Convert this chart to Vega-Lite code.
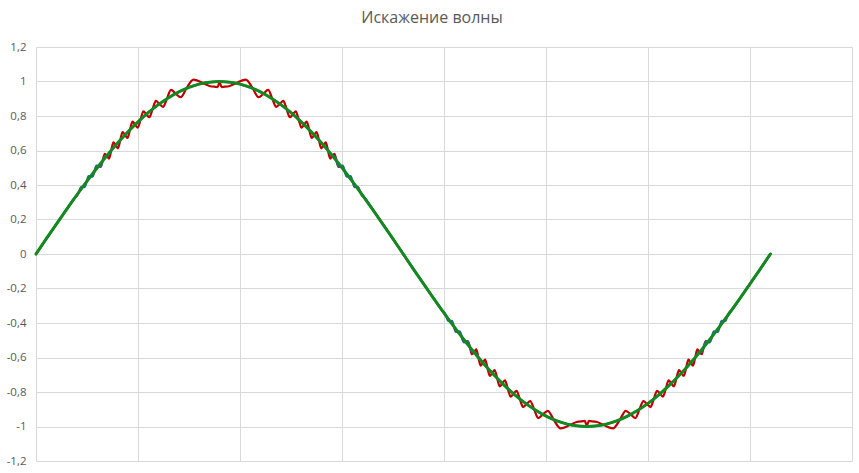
{
  "$schema": "https://vega.github.io/schema/vega-lite/v6.json",
  "autosize": "none",
  "width": 816,
  "height": 414,
  "padding": {"left": 36, "top": 47, "right": 7, "bottom": 12},
  "background": "white",
  "title": {"text": "Искажение волны", "font": "Open Sans", "fontSize": 16, "fontWeight": "normal", "color": "#595959", "anchor": "middle", "offset": 15, "dx": -12},
  "config": {"view": {"stroke": null}},
  "datasets": {
    "green": [
      {"x":0,"y":0},{"x":5,"y":0.0872},{"x":10,"y":0.1736},{"x":15,"y":0.2588},{"x":20,"y":0.342},{"x":25,"y":0.4226},{"x":30,"y":0.5},{"x":35,"y":0.5736},{"x":40,"y":0.6428},{"x":45,"y":0.7071},{"x":50,"y":0.766},{"x":55,"y":0.8192},{"x":60,"y":0.866},{"x":65,"y":0.9063},{"x":70,"y":0.9397},{"x":75,"y":0.9659},{"x":80,"y":0.9848},{"x":85,"y":0.9962},{"x":90,"y":1},{"x":95,"y":0.9962},{"x":100,"y":0.9848},{"x":105,"y":0.9659},{"x":110,"y":0.9397},{"x":115,"y":0.9063},{"x":120,"y":0.866},{"x":125,"y":0.8192},{"x":130,"y":0.766},{"x":135,"y":0.7071},{"x":140,"y":0.6428},{"x":145,"y":0.5736},{"x":150,"y":0.5},{"x":155,"y":0.4226},{"x":160,"y":0.342},{"x":165,"y":0.2588},{"x":170,"y":0.1736},{"x":175,"y":0.0872},{"x":180,"y":0},
      {"x":185,"y":-0.0872},{"x":190,"y":-0.1736},{"x":195,"y":-0.2588},{"x":200,"y":-0.342},{"x":205,"y":-0.4226},{"x":210,"y":-0.5},{"x":215,"y":-0.5736},{"x":220,"y":-0.6428},{"x":225,"y":-0.7071},{"x":230,"y":-0.766},{"x":235,"y":-0.8192},{"x":240,"y":-0.866},{"x":245,"y":-0.9063},{"x":250,"y":-0.9397},{"x":255,"y":-0.9659},{"x":260,"y":-0.9848},{"x":265,"y":-0.9962},{"x":270,"y":-1},{"x":275,"y":-0.9962},{"x":280,"y":-0.9848},{"x":285,"y":-0.9659},{"x":290,"y":-0.9397},{"x":295,"y":-0.9063},{"x":300,"y":-0.866},{"x":305,"y":-0.8192},{"x":310,"y":-0.766},{"x":315,"y":-0.7071},{"x":320,"y":-0.6428},{"x":325,"y":-0.5736},{"x":330,"y":-0.5},{"x":335,"y":-0.4226},{"x":340,"y":-0.342},{"x":345,"y":-0.2588},{"x":350,"y":-0.1736},{"x":355,"y":-0.0872},{"x":360,"y":0}
    ],
    "red": [
      {"x":0,"y":0},{"x":5,"y":0.0872},{"x":10,"y":0.1736},{"x":15,"y":0.2588},{"x":20,"y":0.342},{"x":25,"y":0.4226},
      {"x":26.744,"y":0.45},{"x":27.71,"y":0.461},{"x":28.685,"y":0.48},{"x":29.669,"y":0.507},{"x":30.663,"y":0.51},{"x":31.667,"y":0.505},{"x":32.683,"y":0.54},{"x":33.71,"y":0.581},{"x":34.749,"y":0.57},{"x":35.802,"y":0.553},{"x":36.869,"y":0.6},{"x":37.951,"y":0.647},{"x":39.049,"y":0.63},{"x":40.164,"y":0.613},{"x":41.298,"y":0.66},{"x":42.452,"y":0.707},{"x":43.628,"y":0.69},{"x":44.827,"y":0.673},{"x":46.052,"y":0.72},{"x":47.305,"y":0.767},{"x":48.588,"y":0.75},{"x":49.904,"y":0.733},{"x":51.257,"y":0.78},{"x":52.651,"y":0.827},{"x":54.091,"y":0.81},{"x":55.583,"y":0.793},{"x":57.14,"y":0.84},{"x":58.759,"y":0.887},{"x":60.455,"y":0.87},{"x":62.25,"y":0.853},{"x":64.158,"y":0.9},{"x":66.204,"y":0.951},{"x":68.436,"y":0.93},{"x":70.908,"y":0.909},{"x":73.74,"y":0.96},{"x":77.161,"y":1.011},{"x":81.89,"y":0.99},{"x":85,"y":0.974},{"x":88,"y":0.969},{"x":89,"y":0.968},{"x":90,"y":0.995},
      {"x":91,"y":0.968},{"x":92,"y":0.969},{"x":95,"y":0.974},{"x":98.11,"y":0.99},{"x":102.839,"y":1.011},{"x":106.26,"y":0.96},{"x":109.092,"y":0.909},{"x":111.564,"y":0.93},{"x":113.796,"y":0.951},{"x":115.842,"y":0.9},{"x":117.75,"y":0.853},{"x":119.545,"y":0.87},{"x":121.241,"y":0.887},{"x":122.86,"y":0.84},{"x":124.417,"y":0.793},{"x":125.909,"y":0.81},{"x":127.349,"y":0.827},{"x":128.743,"y":0.78},{"x":130.096,"y":0.733},{"x":131.412,"y":0.75},{"x":132.695,"y":0.767},{"x":133.948,"y":0.72},{"x":135.173,"y":0.673},{"x":136.372,"y":0.69},{"x":137.548,"y":0.707},{"x":138.702,"y":0.66},{"x":139.836,"y":0.613},{"x":140.951,"y":0.63},{"x":142.049,"y":0.647},{"x":143.131,"y":0.6},{"x":144.198,"y":0.553},{"x":145.251,"y":0.57},{"x":146.29,"y":0.581},{"x":147.317,"y":0.54},{"x":148.333,"y":0.505},{"x":149.337,"y":0.51},{"x":150.331,"y":0.507},{"x":151.315,"y":0.48},{"x":152.29,"y":0.461},{"x":153.256,"y":0.45},
      {"x":155,"y":0.4226},{"x":160,"y":0.342},{"x":165,"y":0.2588},{"x":170,"y":0.1736},{"x":175,"y":0.0872},{"x":180,"y":0},{"x":185,"y":-0.0872},{"x":190,"y":-0.1736},{"x":195,"y":-0.2588},{"x":200,"y":-0.342},{"x":205,"y":-0.4226},
      {"x":206.744,"y":-0.45},{"x":207.71,"y":-0.461},{"x":208.685,"y":-0.48},{"x":209.669,"y":-0.507},{"x":210.663,"y":-0.51},{"x":211.667,"y":-0.505},{"x":212.683,"y":-0.54},{"x":213.71,"y":-0.581},{"x":214.749,"y":-0.57},{"x":215.802,"y":-0.553},{"x":216.869,"y":-0.6},{"x":217.951,"y":-0.647},{"x":219.049,"y":-0.63},{"x":220.164,"y":-0.613},{"x":221.298,"y":-0.66},{"x":222.452,"y":-0.707},{"x":223.628,"y":-0.69},{"x":224.827,"y":-0.673},{"x":226.052,"y":-0.72},{"x":227.305,"y":-0.767},{"x":228.588,"y":-0.75},{"x":229.904,"y":-0.733},{"x":231.257,"y":-0.78},{"x":232.651,"y":-0.827},{"x":234.091,"y":-0.81},{"x":235.583,"y":-0.793},{"x":237.14,"y":-0.84},{"x":238.759,"y":-0.887},{"x":240.455,"y":-0.87},{"x":242.25,"y":-0.853},{"x":244.158,"y":-0.9},{"x":246.204,"y":-0.951},{"x":248.436,"y":-0.93},{"x":250.908,"y":-0.909},{"x":253.74,"y":-0.96},{"x":257.161,"y":-1.011},{"x":261.89,"y":-0.99},{"x":265,"y":-0.974},{"x":268,"y":-0.969},{"x":269,"y":-0.968},{"x":270,"y":-0.995},
      {"x":271,"y":-0.968},{"x":272,"y":-0.969},{"x":275,"y":-0.974},{"x":278.11,"y":-0.99},{"x":282.839,"y":-1.011},{"x":286.26,"y":-0.96},{"x":289.092,"y":-0.909},{"x":291.564,"y":-0.93},{"x":293.796,"y":-0.951},{"x":295.842,"y":-0.9},{"x":297.75,"y":-0.853},{"x":299.545,"y":-0.87},{"x":301.241,"y":-0.887},{"x":302.86,"y":-0.84},{"x":304.417,"y":-0.793},{"x":305.909,"y":-0.81},{"x":307.349,"y":-0.827},{"x":308.743,"y":-0.78},{"x":310.096,"y":-0.733},{"x":311.412,"y":-0.75},{"x":312.695,"y":-0.767},{"x":313.948,"y":-0.72},{"x":315.173,"y":-0.673},{"x":316.372,"y":-0.69},{"x":317.548,"y":-0.707},{"x":318.702,"y":-0.66},{"x":319.836,"y":-0.613},{"x":320.951,"y":-0.63},{"x":322.049,"y":-0.647},{"x":323.131,"y":-0.6},{"x":324.198,"y":-0.553},{"x":325.251,"y":-0.57},{"x":326.29,"y":-0.581},{"x":327.317,"y":-0.54},{"x":328.333,"y":-0.505},{"x":329.337,"y":-0.51},{"x":330.331,"y":-0.507},{"x":331.315,"y":-0.48},{"x":332.29,"y":-0.461},{"x":333.256,"y":-0.45},
      {"x":335,"y":-0.4226},{"x":340,"y":-0.342},{"x":345,"y":-0.2588},{"x":350,"y":-0.1736},{"x":355,"y":-0.0872},{"x":360,"y":0}
    ],
    "blue": [
      {"x":0,"y":0},{"x":5,"y":0.0872},{"x":10,"y":0.1736},{"x":15,"y":0.2588},
      {"x":19.268,"y":0.33},{"x":20.182,"y":0.339},{"x":21.1,"y":0.36},{"x":22.024,"y":0.387},{"x":22.955,"y":0.39},{"x":23.891,"y":0.388},{"x":24.834,"y":0.42},{"x":25.785,"y":0.452},{"x":26.744,"y":0.45},{"x":27.71,"y":0.448},{"x":28.685,"y":0.48},{"x":29.669,"y":0.512},{"x":30.663,"y":0.51},{"x":31.667,"y":0.508},{"x":32.683,"y":0.54},{"x":33.71,"y":0.567},{"x":34.749,"y":0.57},{"x":35.802,"y":0.579},{"x":36.869,"y":0.6},
      {"x":40,"y":0.6428},{"x":45,"y":0.7071},{"x":50,"y":0.766},{"x":55,"y":0.8192},{"x":60,"y":0.866},{"x":65,"y":0.9063},{"x":70,"y":0.9397},{"x":75,"y":0.9659},{"x":80,"y":0.9848},{"x":85,"y":0.9962},{"x":90,"y":1},{"x":95,"y":0.9962},{"x":100,"y":0.9848},{"x":105,"y":0.9659},{"x":110,"y":0.9397},{"x":115,"y":0.9063},{"x":120,"y":0.866},{"x":125,"y":0.8192},{"x":130,"y":0.766},{"x":135,"y":0.7071},{"x":140,"y":0.6428},
      {"x":143.131,"y":0.6},{"x":144.198,"y":0.579},{"x":145.251,"y":0.57},{"x":146.29,"y":0.567},{"x":147.317,"y":0.54},{"x":148.333,"y":0.508},{"x":149.337,"y":0.51},{"x":150.331,"y":0.512},{"x":151.315,"y":0.48},{"x":152.29,"y":0.448},{"x":153.256,"y":0.45},{"x":154.215,"y":0.452},{"x":155.166,"y":0.42},{"x":156.109,"y":0.388},{"x":157.045,"y":0.39},{"x":157.976,"y":0.387},{"x":158.9,"y":0.36},{"x":159.818,"y":0.339},{"x":160.732,"y":0.33},
      {"x":165,"y":0.2588},{"x":170,"y":0.1736},{"x":175,"y":0.0872},{"x":180,"y":0},{"x":185,"y":-0.0872},{"x":190,"y":-0.1736},{"x":195,"y":-0.2588},
      {"x":199.268,"y":-0.33},{"x":200.182,"y":-0.339},{"x":201.1,"y":-0.36},{"x":202.024,"y":-0.387},{"x":202.955,"y":-0.39},{"x":203.891,"y":-0.388},{"x":204.834,"y":-0.42},{"x":205.785,"y":-0.452},{"x":206.744,"y":-0.45},{"x":207.71,"y":-0.448},{"x":208.685,"y":-0.48},{"x":209.669,"y":-0.512},{"x":210.663,"y":-0.51},{"x":211.667,"y":-0.508},{"x":212.683,"y":-0.54},{"x":213.71,"y":-0.567},{"x":214.749,"y":-0.57},{"x":215.802,"y":-0.579},{"x":216.869,"y":-0.6},
      {"x":220,"y":-0.6428},{"x":225,"y":-0.7071},{"x":230,"y":-0.766},{"x":235,"y":-0.8192},{"x":240,"y":-0.866},{"x":245,"y":-0.9063},{"x":250,"y":-0.9397},{"x":255,"y":-0.9659},{"x":260,"y":-0.9848},{"x":265,"y":-0.9962},{"x":270,"y":-1},{"x":275,"y":-0.9962},{"x":280,"y":-0.9848},{"x":285,"y":-0.9659},{"x":290,"y":-0.9397},{"x":295,"y":-0.9063},{"x":300,"y":-0.866},{"x":305,"y":-0.8192},{"x":310,"y":-0.766},{"x":315,"y":-0.7071},{"x":320,"y":-0.6428},
      {"x":323.131,"y":-0.6},{"x":324.198,"y":-0.579},{"x":325.251,"y":-0.57},{"x":326.29,"y":-0.567},{"x":327.317,"y":-0.54},{"x":328.333,"y":-0.508},{"x":329.337,"y":-0.51},{"x":330.331,"y":-0.512},{"x":331.315,"y":-0.48},{"x":332.29,"y":-0.448},{"x":333.256,"y":-0.45},{"x":334.215,"y":-0.452},{"x":335.166,"y":-0.42},{"x":336.109,"y":-0.388},{"x":337.045,"y":-0.39},{"x":337.976,"y":-0.387},{"x":338.9,"y":-0.36},{"x":339.818,"y":-0.339},{"x":340.732,"y":-0.33},
      {"x":345,"y":-0.2588},{"x":350,"y":-0.1736},{"x":355,"y":-0.0872},{"x":360,"y":0}
    ]
  },
  "encoding": {
    "x": {"field": "x", "type": "quantitative", "scale": {"domain": [0, 400], "nice": false, "zero": false},
      "axis": {"title": null, "values": [0,50,100,150,200,250,300,350,400], "labels": false, "ticks": false, "domain": false, "grid": true, "gridColor": "#D9D9D9", "gridWidth": 1}},
    "y": {"field": "y", "type": "quantitative", "scale": {"domain": [-1.2, 1.2], "nice": false, "zero": false},
      "axis": {"title": null, "values": [-1.2,-1,-0.8,-0.6,-0.4,-0.2,0,0.2,0.4,0.6,0.8,1,1.2], "ticks": false, "domain": false, "grid": true, "gridColor": "#D9D9D9", "gridWidth": 1, "labelFont": "Open Sans", "labelFontSize": 11.5, "labelColor": "#595959", "labelPadding": 10,
        "labelExpr": "(datum.value < 0 ? '-' : '') + replace(format(abs(datum.value), '.1~f'), '.', ',')"}}
  },
  "layer": [
    {"data": {"name": "red"}, "mark": {"type": "line", "interpolate": "monotone", "color": "#C00000", "strokeWidth": 2.25, "strokeJoin": "round", "strokeCap": "round"}},
    {"data": {"name": "blue"}, "mark": {"type": "line", "interpolate": "monotone", "color": "#2563A8", "strokeWidth": 2.25, "strokeJoin": "round", "strokeCap": "round"}},
    {"data": {"name": "green"}, "mark": {"type": "line", "interpolate": "monotone", "color": "#138A1F", "strokeWidth": 3, "strokeJoin": "round", "strokeCap": "round"}}
  ]
}
